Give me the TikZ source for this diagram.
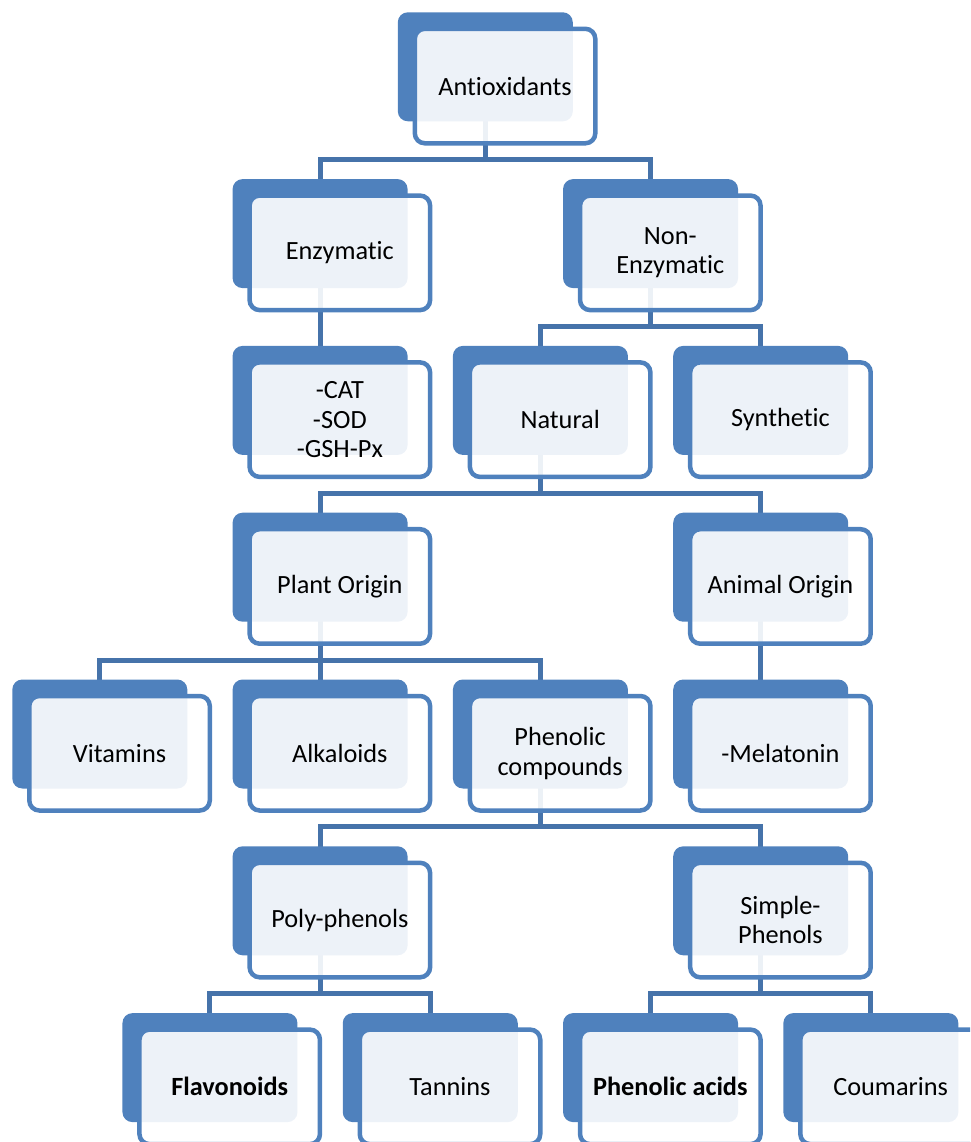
\documentclass[tikz,border=0pt]{standalone}
\usepackage{fontspec}
\setmainfont{Carlito}[Ligatures={NoCommon}]
\usetikzlibrary{calc}
\definecolor{boxblue}{RGB}{79,129,189}
\definecolor{linkblue}{RGB}{70,115,170}
\tikzset{
  bback/.style={fill=boxblue, draw=none, rounded corners=10pt, minimum width=175pt, minimum height=109pt, inner sep=0pt},
  bfront/.style={draw=boxblue, line width=4.5pt, fill=white, fill opacity=0.9, text opacity=1, rounded corners=10pt, minimum width=180.5pt, minimum height=114.5pt, inner sep=0pt, align=center, font=\fontsize{26.3}{29.5}\selectfont},
  conn/.style={draw=linkblue, line width=5pt}
}
\newcommand\abox[2]{%
  \node[bback] (#1b) at (#1) {};
  \node[bfront] (#1f) at ([shift={(19.75pt,-19.25pt)}]#1) {#2};
}
\begin{document}
\begin{tikzpicture}[x=1pt,y=1pt]
\useasboundingbox (0,0) rectangle (970,-1142);
\clip (0,0) rectangle (970,-1142);
% B centres (top-left + (87.5,54.5))
\coordinate (ant) at ({397.8+87.5},{-12.3-54.5});
\coordinate (enz) at ({232.6+87.5},{-179.1-54.5});
\coordinate (non) at ({563.05+87.5},{-179.1-54.5});
\coordinate (cat) at ({232.6+87.5},{-345.9-54.5});
\coordinate (nat) at ({452.9+87.5},{-345.9-54.5});
\coordinate (syn) at ({673.2+87.5},{-345.9-54.5});
\coordinate (pla) at ({232.6+87.5},{-512.7-54.5});
\coordinate (ani) at ({673.2+87.5},{-512.7-54.5});
\coordinate (vit) at ({12.3+87.5},{-679.5-54.5});
\coordinate (alk) at ({232.6+87.5},{-679.5-54.5});
\coordinate (phe) at ({452.9+87.5},{-679.5-54.5});
\coordinate (mel) at ({673.2+87.5},{-679.5-54.5});
\coordinate (pol) at ({232.6+87.5},{-846.3-54.5});
\coordinate (sim) at ({673.2+87.5},{-846.3-54.5});
\coordinate (fla) at ({122.45+87.5},{-1013.1-54.5});
\coordinate (tan) at ({342.75+87.5},{-1013.1-54.5});
\coordinate (pac) at ({563.05+87.5},{-1013.1-54.5});
\coordinate (cou) at ({783.35+87.5},{-1013.1-54.5});
% connectors
\draw[conn] (ant) |- ([yshift=74pt]enz) -- (enz);
\draw[conn] (ant) |- ([yshift=74pt]non) -- (non);
\draw[conn] (enz) -- (cat);
\draw[conn] (non) |- ([yshift=74pt]nat) -- (nat);
\draw[conn] (non) |- ([yshift=74pt]syn) -- (syn);
\draw[conn] (nat) |- ([yshift=74pt]pla) -- (pla);
\draw[conn] (nat) |- ([yshift=74pt]ani) -- (ani);
\draw[conn] (pla) |- ([yshift=74pt]vit) -- (vit);
\draw[conn] (pla) |- ([yshift=74pt]alk) -- (alk);
\draw[conn] (pla) |- ([yshift=74pt]phe) -- (phe);
\draw[conn] (ani) -- (mel);
\draw[conn] (phe) |- ([yshift=74pt]pol) -- (pol);
\draw[conn] (phe) |- ([yshift=74pt]sim) -- (sim);
\draw[conn] (pol) |- ([yshift=74pt]fla) -- (fla);
\draw[conn] (pol) |- ([yshift=74pt]tan) -- (tan);
\draw[conn] (sim) |- ([yshift=74pt]pac) -- (pac);
\draw[conn] (sim) |- ([yshift=74pt]cou) -- (cou);
% boxes
\abox{ant}{Antioxidants}
\abox{enz}{Enzymatic}
\abox{non}{Non-\\Enzymatic}
\abox{cat}{-CAT\\-SOD\\-GSH-Px}
\abox{nat}{Natural}
\abox{syn}{Synthetic}
\abox{pla}{Plant Origin}
\abox{ani}{Animal Origin}
\abox{vit}{Vitamins}
\abox{alk}{Alkaloids}
\abox{phe}{Phenolic\\compounds}
\abox{mel}{-Melatonin}
\abox{pol}{Poly-phenols}
\abox{sim}{Simple-\\Phenols}
\abox{fla}{\textbf{Flavonoids}}
\abox{tan}{Tannins}
\abox{pac}{\textbf{Phenolic acids}}
\abox{cou}{Coumarins}
\end{tikzpicture}
\end{document}
